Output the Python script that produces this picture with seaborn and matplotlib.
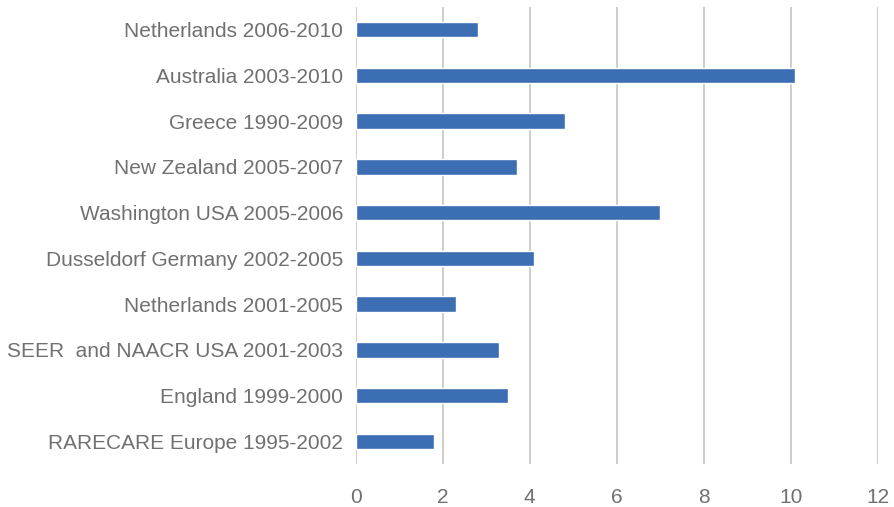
import matplotlib
matplotlib.use("Agg")
import matplotlib.pyplot as plt
import seaborn as sns
import pandas as pd

categories = [
    "Netherlands 2006-2010",
    "Australia 2003-2010",
    "Greece 1990-2009",
    "New Zealand 2005-2007",
    "Washington USA 2005-2006",
    "Dusseldorf Germany 2002-2005",
    "Netherlands 2001-2005",
    "SEER  and NAACR USA 2001-2003",
    "England 1999-2000",
    "RARECARE Europe 1995-2002",
]
values = [2.8, 10.1, 4.8, 3.7, 7.0, 4.1, 2.3, 3.3, 3.5, 1.8]
x_ticks = [0, 2, 4, 6, 8, 10, 12]

df = pd.DataFrame({"category": categories, "value": values})

sns.set_theme(style="white")
plt.rcParams["font.family"] = ["Liberation Sans", "DejaVu Sans"]

fig = plt.figure(figsize=(8.94, 5.07), dpi=100)
top_px, bottom_px, left_px, right_px = 6.7, 464.3, 355.7, 877.7
ax = fig.add_axes([left_px / 894, 1 - bottom_px / 507,
                   (right_px - left_px) / 894, (bottom_px - top_px) / 507])

sns.barplot(data=df, x="value", y="category", order=categories, orient="h",
            color="#3C6EB4", saturation=1, width=0.34, ax=ax)

ax.set_xlim(0, 12)
ax.set_xticks(x_ticks)
ax.set_xticklabels([str(t) for t in x_ticks])
ax.set_xlabel("")
ax.set_ylabel("")
ax.grid(axis="x", color="#C0C0C4", linewidth=1.1)
ax.grid(axis="y", visible=False)
ax.set_axisbelow(True)
for s in ax.spines.values():
    s.set_visible(False)
ax.tick_params(axis="y", length=0, pad=9, labelsize=15, labelcolor="#707070")
ax.tick_params(axis="x", length=0, pad=17, labelsize=15, labelcolor="#707070")

fig.savefig("out.png", dpi=100, facecolor="white")
